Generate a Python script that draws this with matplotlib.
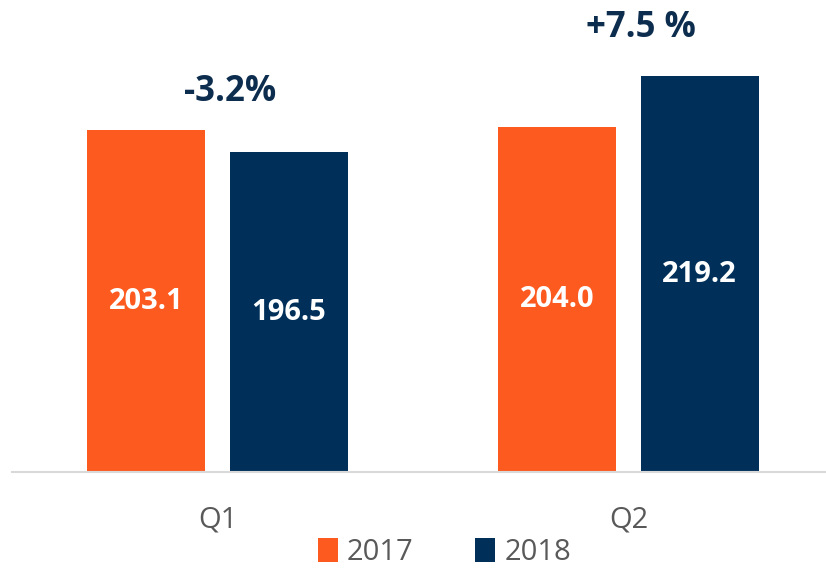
import numpy as np
import matplotlib.pyplot as plt

# Data
quarters = ['Q1', 'Q2']
years = ['2017', '2018']
values_2017 = [203.1, 204.0]
values_2018 = [196.5, 219.2]
changes = ['-3.2%', '+7.5 %']

orange = '#FC5A1F'
navy = '#00305A'

plt.rcParams['font.family'] = ['Open Sans', 'DejaVu Sans']

fig = plt.figure(figsize=(8.26, 5.73), dpi=100)
ax = fig.add_axes([12 / 826, 101 / 573, 822 / 826, 472 / 573])

x = np.arange(len(quarters))
w = 0.287
off = 0.173

b1 = ax.bar(x - off, values_2017, w, color=orange, label=years[0])
b2 = ax.bar(x + off, values_2018, w, color=navy, label=years[1])

ax.set_ylim(101, 242)
ax.set_xlim(-0.5, 1.5)

# Value labels inside bars
for bars in (b1, b2):
    for bar in bars:
        h = bar.get_height()
        ax.text(bar.get_x() + bar.get_width() / 2, 101 + (h - 101) / 2,
                f'{h:.1f}', ha='center', va='center', color='white',
                fontsize=21, fontweight='bold')

# Change labels above groups
label_gap = [11.5, 14.5]
for i, txt in enumerate(changes):
    top = max(values_2017[i], values_2018[i])
    ax.text(x[i] + 0.03, top + label_gap[i], txt, ha='center', va='center',
            color='#0D2D4F', fontsize=25, fontweight='bold')

for s in ['top', 'right', 'left']:
    ax.spines[s].set_visible(False)
ax.spines['bottom'].set_color('#D9D9D9')
ax.spines['bottom'].set_linewidth(1.5)
ax.set_yticks([])
ax.set_xticks(x)
ax.set_xticklabels(quarters, fontsize=21, color='#595959')
ax.tick_params(axis='x', length=0, pad=24)

fig.legend(loc='lower center', bbox_to_anchor=(0.538, -0.035), ncol=2,
           frameon=False, fontsize=21, labelcolor='#595959',
           handlelength=0.7, handleheight=0.9, handletextpad=0.3,
           columnspacing=2.1)

fig.savefig('out.png', dpi=100)
